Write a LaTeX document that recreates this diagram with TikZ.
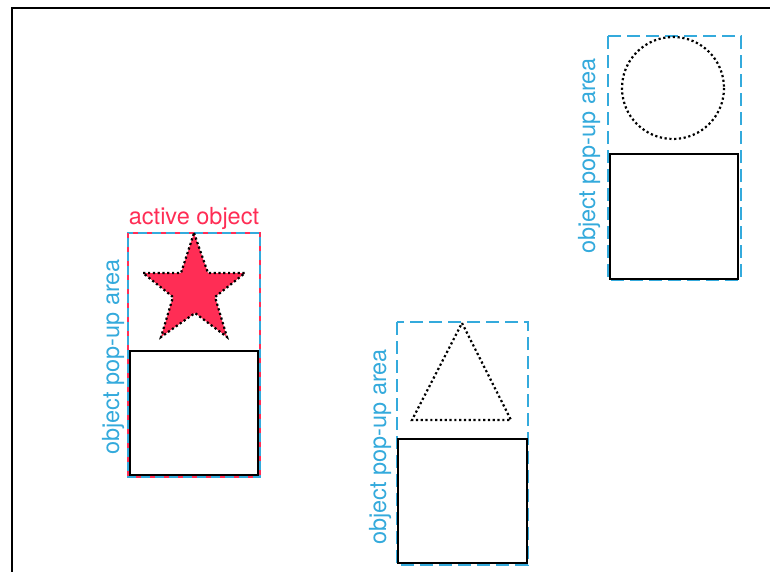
\documentclass[tikz,border=0pt]{standalone}
\usepackage{fontspec}
\setmainfont{TeX Gyre Heros}
\definecolor{popblue}{RGB}{52,170,220}
\definecolor{actpink}{RGB}{255,45,85}
\begin{document}
\begin{tikzpicture}[x=1pt,y=-1pt,
  frame/.style={line width=2pt},
  area/.style={popblue, line width=2.5pt, dash pattern=on 13pt off 6pt},
  activearea/.style={actpink, line width=2.5pt, dash pattern=on 5pt off 9pt},
  objbox/.style={line width=2pt, fill=white},
  preview/.style={line width=2.2pt, dash pattern=on 2.2pt off 2.6pt},
  arealabel/.style={popblue, rotate=90, font=\fontsize{23.5}{28}\selectfont},
]
\useasboundingbox (0,0) rectangle (770,571);
% outer frame, running off the right and bottom edges
\draw[frame] (12,580) -- (12,8) -- (780,8);

% active object: star
\draw[popblue, line width=2.5pt] (128,233) rectangle (260,477);
\draw[activearea] (128,233) rectangle (260,477);
\draw[objbox] (130,351) rectangle (258,475);
\draw[preview, fill=actpink] (194,233) -- (208,273) -- (245,273) -- (215,297) -- (227,337)
  -- (195,313) -- (161,337) -- (173,297) -- (143,273) -- (181,273) -- cycle;
\node[actpink, font=\fontsize{23.5}{28}\selectfont] (activelabel) at (194,218) {active object};
\node[arealabel] (label1) at (113,357) {object pop-up area};

% triangle object
\draw[area] (397,322) rectangle (528,565);
\draw[objbox] (398,439) rectangle (527,563);
\draw[preview] (462,323) -- (511,420) -- (412,420) -- cycle;
\node[arealabel] (label2) at (380,447) {object pop-up area};

% circle object
\draw[area] (608,36) rectangle (741,280);
\draw[objbox] (610,154) rectangle (738,279);
\draw[preview] (673,88) circle[radius=51];
\node[arealabel] (label3) at (589,156) {object pop-up area};
\end{tikzpicture}
\end{document}
